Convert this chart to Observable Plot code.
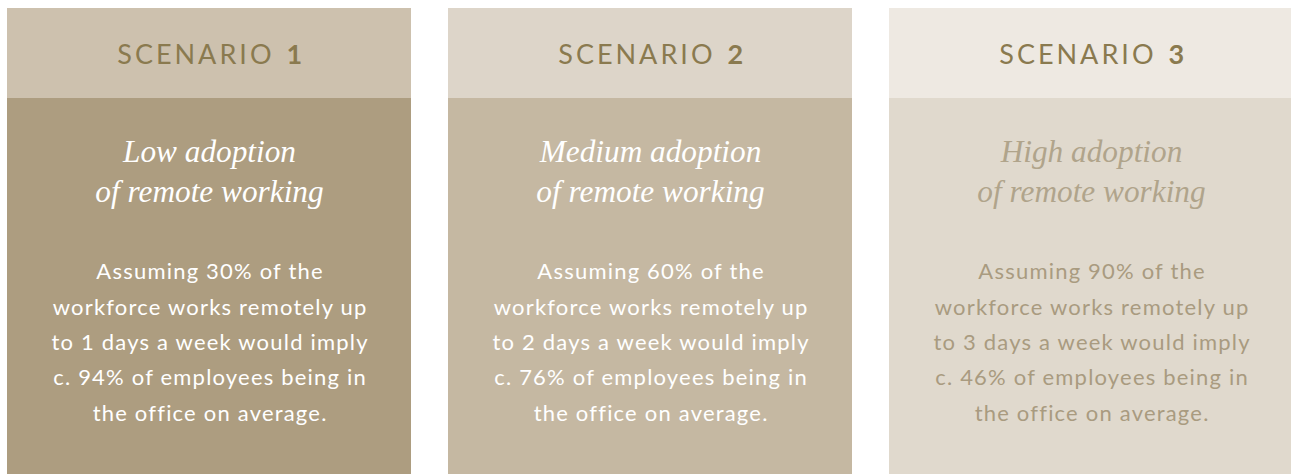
<!DOCTYPE html>
<html><head><meta charset="utf-8">
<script src="https://cdn.jsdelivr.net/npm/d3@7"></script>
<script src="https://cdn.jsdelivr.net/npm/@observablehq/plot@0.6"></script>
<style>html,body{margin:0;padding:0;background:#fff;} svg{display:block}</style>
</head><body><div id="chart"></div>
<script>
// ---- data ----
const scenarios = ["1", "2", "3"];
const adoptionLevels = ["Low", "Medium", "High"];
const remoteSharePct = [30, 60, 90];
const remoteDaysPerWeek = [1, 2, 3];
const officeSharePct = [94, 76, 46];

// ---- styles ----
const headerFill = ["#cdc1ae", "#ddd5c9", "#eee9e2"];
const bodyFill = ["#ad9d80", "#c5b8a2", "#e0d9cd"];
const headerTextColor = "#8a7a4f";
const titleColor = ["#ffffff", "#ffffff", "#b0a48b"];
const bodyTextColor = ["#ffffff", "#ffffff", "#a99b80"];

// ---- layout ----
const W = 1291, H = 474;
const panelTop = 8, headerBottom = 98;
const sansFont = "Lato, 'Noto Sans', sans-serif";
const serifFont = "'Liberation Serif', 'DejaVu Serif', serif";

const rows = scenarios.map((s, i) => ({
  s, i,
  title: `${adoptionLevels[i]} adoption\nof remote working`,
  body: `Assuming ${remoteSharePct[i]}% of the\nworkforce works remotely up\nto ${remoteDaysPerWeek[i]} days a week would imply\nc. ${officeSharePct[i]}% of employees being in\nthe office on average.`
}));

const chart = Plot.plot({
  width: W, height: H,
  margin: 0,
  style: {background: "#fff"},
  x: {type: "band", domain: scenarios, range: [7, 1293], paddingInner: 37 / 441, paddingOuter: 0, axis: null},
  y: {domain: [0, H], range: [0, H], axis: null},
  color: {type: "identity"},
  marks: [
    Plot.barY(rows, {x: "s", y1: () => panelTop, y2: () => headerBottom, fill: d => headerFill[d.i], inset: 0}),
    Plot.barY(rows, {x: "s", y1: () => headerBottom, y2: () => H, fill: d => bodyFill[d.i], inset: 0}),
    Plot.text(rows, {x: "s", y: () => 63.5, text: () => "SCENARIO", textAnchor: "end", dx: 65, lineAnchor: "bottom",
      fill: headerTextColor, fontSize: 27, fontFamily: sansFont, fontWeight: 400, className: "hdr"}),
    Plot.text(rows, {x: "s", y: () => 63.5, text: "s", textAnchor: "start", dx: 77, lineAnchor: "bottom",
      fill: headerTextColor, fontSize: 27, fontFamily: sansFont, fontWeight: 700}),
    Plot.text(rows, {x: "s", y: () => 201, text: "title", lineAnchor: "bottom", lineHeight: 40 / 31.3,
      fill: d => titleColor[d.i], fontSize: 31.3, fontFamily: serifFont, fontStyle: "italic"}),
    Plot.text(rows, {x: "s", y: () => 420, text: "body", lineAnchor: "bottom", lineHeight: 35.3 / 22, dx: 0.6,
      fill: d => bodyTextColor[d.i], fontSize: 22, fontFamily: sansFont, fontWeight: 400, className: "bodytxt"})
  ]
});
document.getElementById("chart").appendChild(chart);
d3.select(chart).selectAll(".hdr text").attr("letter-spacing", "3px");
d3.select(chart).selectAll(".bodytxt text").attr("letter-spacing", "1.2px");
</script>
</body></html>
